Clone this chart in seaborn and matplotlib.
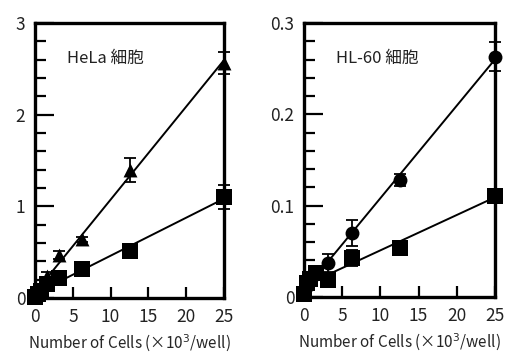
import numpy as np
import pandas as pd
import seaborn as sns
import matplotlib.pyplot as plt
from matplotlib.ticker import MultipleLocator

# cell numbers (x10^3 / well), serial two-fold dilution
cells = [0, 0.39, 0.78, 1.56, 3.125, 6.25, 12.5, 25]

# HeLa
hela_tri = [0.02, 0.05, 0.12, 0.24, 0.47, 0.64, 1.40, 2.56]
hela_tri_err = [0.01, 0.01, 0.02, 0.04, 0.04, 0.03, 0.13, 0.12]
hela_sq = [0.01, 0.04, 0.08, 0.15, 0.22, 0.32, 0.51, 1.10]
hela_sq_err = [0.01, 0.01, 0.01, 0.02, 0.02, 0.02, 0.03, 0.13]

# HL-60
hl_circ = [0.005, 0.012, 0.018, 0.025, 0.037, 0.070, 0.128, 0.263]
hl_circ_err = [0.002, 0.002, 0.003, 0.003, 0.010, 0.014, 0.007, 0.016]
hl_sq = [0.003, 0.015, 0.020, 0.026, 0.019, 0.043, 0.054, 0.111]
hl_sq_err = [0.002, 0.002, 0.002, 0.003, 0.003, 0.009, 0.003, 0.005]

panels = [
    dict(title="HeLa 細胞", ymax=3, major=1, minor=0.2,
         series=[(hela_tri, hela_tri_err, "^", 10), (hela_sq, hela_sq_err, "s", 11)],
         pos=[35 / 525, 61 / 359, 189 / 525, 275 / 359]),
    dict(title="HL-60 細胞", ymax=0.3, major=0.1, minor=0.02,
         series=[(hl_circ, hl_circ_err, "o", 10), (hl_sq, hl_sq_err, "s", 11)],
         pos=[304 / 525, 62 / 359, 191 / 525, 274 / 359]),
]

sns.set_style("ticks")
plt.rcParams["font.family"] = ["Noto Sans CJK JP", "DejaVu Sans"]
plt.rcParams["axes.edgecolor"] = "black"
plt.rcParams["xtick.color"] = "black"
plt.rcParams["ytick.color"] = "black"
plt.rcParams["text.color"] = "#222222"

fig = plt.figure(figsize=(5.25, 3.59), dpi=100)

for p in panels:
    ax = fig.add_axes(p["pos"])
    for vals, errs, mk, ms in p["series"]:
        df = pd.DataFrame({"x": cells, "y": vals, "e": errs})
        # fitted line through each series
        sns.regplot(data=df, x="x", y="y", scatter=False, ci=None, truncate=True,
                    ax=ax, line_kws=dict(color="black", lw=1.4))
        ax.errorbar(df["x"], df["y"], yerr=df["e"], fmt="none", ecolor="black",
                    elinewidth=1.3, capsize=4, capthick=1.3, zorder=3, clip_on=False)
        sns.scatterplot(data=df, x="x", y="y", marker=mk, s=ms ** 2, color="black",
                        edgecolor="black", linewidth=0, ax=ax, zorder=4, clip_on=False)

    ax.set_xlim(0, 25)
    ax.set_ylim(0, p["ymax"])
    ax.set_xticks([0, 5, 10, 15, 20, 25])
    ax.set_yticks(np.arange(0, p["ymax"] + 1e-9, p["major"]))
    ax.yaxis.set_minor_locator(MultipleLocator(p["minor"]))
    ax.set_yticklabels(["{:g}".format(round(v, 2)) for v in ax.get_yticks()])
    ax.tick_params(axis="both", which="major", direction="in", labelsize=12.5,
                   width=1.6, labelcolor="#222222")
    ax.tick_params(axis="y", which="major", length=14, pad=7)
    ax.tick_params(axis="x", which="major", length=8, pad=7)
    ax.tick_params(axis="y", which="minor", direction="in", length=8, width=1.6)
    for s in ax.spines.values():
        s.set_linewidth(2.4)
        s.set_color("black")
        s.set_visible(True)
        s.set_zorder(5)
    ax.set_xlabel("Number of Cells (×10$^3$/well)", fontsize=11, labelpad=5)
    ax.set_ylabel("")
    ax.text(0.17, 0.87, p["title"], transform=ax.transAxes, fontsize=12,
            ha="left", va="center")

fig.savefig("out.png", dpi=100)
